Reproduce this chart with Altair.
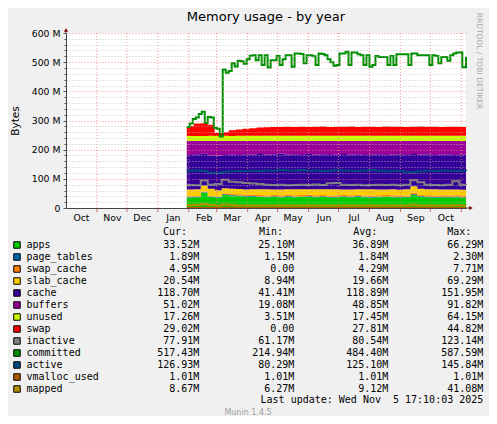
import altair as alt
import pandas as pd

# ---------------- data ----------------
week_dates = [(pd.Timestamp("2025-01-30") + pd.Timedelta(days=7 * i)).isoformat() for i in range(40)] + ["2025-11-05T17:10:00"]
comm_dates = [(pd.Timestamp("2025-01-30") + pd.Timedelta(days=3 * i)).isoformat() for i in range(93)] + ["2025-11-05T17:10:00"]

apps = [36, 37, 52, 38, 36, 45, 43, 41, 39, 39,
        38, 37, 38, 37, 39, 37, 38, 39, 37, 38,
        36, 37, 38, 37, 39, 37, 36, 37, 38, 37,
        36, 37, 45, 39, 37, 36, 37, 36, 37, 35,
        33.52]
page_tables = [1.6, 1.7, 1.8, 1.7, 1.6, 1.9, 1.9, 1.8, 1.8, 1.9,
               1.8, 1.8, 1.9, 1.8, 1.9, 1.8, 1.8, 1.9, 1.8, 1.9,
               1.8, 1.8, 1.9, 1.8, 1.9, 1.8, 1.8, 1.9, 1.8, 1.9,
               1.8, 1.8, 2.1, 1.9, 1.8, 1.9, 1.8, 1.9, 1.9, 1.9,
               1.89]
swap_cache = [2.0, 2.5, 3.0, 2.5, 1.0, 3.5, 4.0, 4.2, 4.5, 4.3,
              4.5, 4.4, 4.6, 4.5, 4.8, 4.5, 4.4, 4.7, 4.5, 4.6,
              4.4, 4.5, 4.7, 4.5, 4.6, 4.4, 4.5, 4.6, 4.5, 4.7,
              4.5, 4.4, 5.5, 4.8, 4.6, 4.5, 4.7, 4.6, 4.8, 4.9,
              4.95]
slab_cache = [24, 23, 20, 24, 22, 17, 17, 18, 18, 19,
              20, 21, 19, 20, 19, 21, 20, 19, 21, 20,
              22, 21, 19, 20, 19, 21, 22, 20, 19, 21,
              20, 21, 22, 20, 21, 22, 20, 21, 20, 21,
              20.54]
cache = [118.4, 119.8, 109.2, 114.8, 119.4, 114.6, 117.1, 117.0, 120.7, 118.8,
         120.7, 118.8, 120.5, 122.7, 118.3, 119.7, 117.8, 120.4, 118.7, 119.5,
         117.8, 118.7, 121.4, 119.7, 119.5, 117.8, 118.7, 120.5, 118.7, 118.4,
         121.7, 117.8, 110.4, 117.3, 119.6, 117.6, 119.5, 120.5, 118.3, 120.2,
         118.70]
buffers = [48, 46, 44, 49, 50, 48, 47, 48, 46, 47,
           45, 47, 46, 44, 47, 46, 48, 45, 47, 46,
           48, 47, 45, 47, 46, 48, 47, 46, 48, 47,
           46, 48, 45, 47, 46, 48, 47, 46, 48, 47,
           51.02]
unused = [17.2, 17.0, 16.8, 17.3, 17.1, 17.4, 17.2, 17.5, 17.3, 17.4,
          17.6, 17.5, 17.4, 17.6, 17.5, 17.4, 17.6, 17.5, 17.4, 17.5,
          17.6, 17.5, 17.4, 17.5, 17.6, 17.4, 17.5, 17.6, 17.5, 17.4,
          17.5, 17.6, 17.4, 17.5, 17.6, 17.5, 17.4, 17.5, 17.6, 17.4,
          17.26]
swap = [34, 43, 44, 38, 10, 12, 19, 22, 24, 26,
        28, 29, 30, 30, 31, 30, 31, 30, 31, 32,
        30, 31, 31, 32, 30, 31, 31, 30, 32, 31,
        31, 30, 31, 32, 31, 31, 30, 31, 31, 30,
        29.02]
inactive = [79, 78, 94, 80, 82, 97, 90, 88, 86, 84,
            82, 80, 79, 80, 78, 79, 80, 79, 81, 79,
            85, 86, 80, 79, 80, 78, 79, 80, 79, 80,
            78, 80, 95, 88, 80, 79, 78, 80, 92, 80,
            77.91]
active = [128, 129, 127, 121, 120, 124, 126, 127, 127, 128,
          127, 129, 128, 130, 129, 128, 130, 128, 129, 127,
          128, 130, 129, 128, 127, 129, 130, 128, 126, 128,
          127, 124, 123, 126, 128, 127, 129, 128, 127, 128,
          126.93]
vmalloc_used = [1.01, 1.01, 1.01, 1.01, 1.01, 1.01, 1.01, 1.01, 1.01, 1.01,
                1.01, 1.01, 1.01, 1.01, 1.01, 1.01, 1.01, 1.01, 1.01, 1.01,
                1.01, 1.01, 1.01, 1.01, 1.01, 1.01, 1.01, 1.01, 1.01, 1.01,
                1.01, 1.01, 1.01, 1.01, 1.01, 1.01, 1.01, 1.01, 1.01, 1.01,
                1.01]
mapped = [10, 11, 14, 10, 9, 12, 10, 9, 9, 9,
          9, 9, 9, 9, 9, 9, 9, 9, 9, 9,
          9, 9, 9, 9, 9, 9, 9, 9, 9, 9,
          9, 9, 11, 9, 9, 9, 9, 9, 10, 9,
          8.67]
committed = [278, 290, 305, 310, 322, 330, 292, 312, 310, 275,
             272, 245, 475, 464, 470, 496, 485, 505, 503, 495,
             510, 522, 524, 507, 524, 490, 524, 482, 507, 507,
             521, 490, 510, 524, 524, 484, 530, 530, 528, 496,
             524, 524, 520, 490, 530, 528, 524, 510, 500, 488,
             490, 530, 530, 536, 490, 533, 533, 527, 524, 490,
             524, 484, 490, 521, 518, 518, 518, 490, 521, 490,
             527, 527, 527, 527, 490, 530, 530, 524, 524, 524,
             524, 490, 524, 521, 496, 518, 518, 505, 524, 530,
             533, 533, 483, 517.43]

area_names = ["apps", "page_tables", "swap_cache", "slab_cache", "cache", "buffers", "unused", "swap"]
area_colors = ["#00CC00", "#0066B3", "#FF8000", "#FFCC00", "#330099", "#990099", "#CCFF00", "#FF0000"]
area_values = [apps, page_tables, swap_cache, slab_cache, cache, buffers, unused, swap]

line_names = ["inactive", "committed", "active", "vmalloc_used", "mapped"]
line_colors = ["#808080", "#008F00", "#00487D", "#B35A00", "#B38F00"]

legend_names = area_names + line_names
legend_colors = area_colors + line_colors
cur_vals = ["33.52M", "1.89M", "4.95M", "20.54M", "118.70M", "51.02M", "17.26M", "29.02M",
            "77.91M", "517.43M", "126.93M", "1.01M", "8.67M"]
min_vals = ["25.10M", "1.15M", "0.00", "8.94M", "41.41M", "19.08M", "3.51M", "0.00",
            "61.17M", "214.94M", "80.29M", "1.01M", "6.27M"]
avg_vals = ["36.89M", "1.84M", "4.29M", "19.66M", "118.89M", "48.85M", "17.45M", "27.81M",
            "80.54M", "484.40M", "125.10M", "1.01M", "9.12M"]
max_vals = ["66.29M", "2.30M", "7.71M", "69.29M", "151.95M", "91.82M", "64.15M", "44.82M",
            "123.14M", "587.59M", "145.84M", "1.01M", "41.08M"]

month_starts = ["2024-11-01T00:00:00", "2024-12-01T00:00:00", "2025-01-01T00:00:00",
                "2025-02-01T00:00:00", "2025-03-01T00:00:00", "2025-04-01T00:00:00",
                "2025-05-01T00:00:00", "2025-06-01T00:00:00", "2025-07-01T00:00:00",
                "2025-08-01T00:00:00", "2025-09-01T00:00:00", "2025-10-01T00:00:00",
                "2025-11-01T00:00:00"]
label_months = [(2024, 10), (2024, 11), (2024, 12), (2025, 1), (2025, 2), (2025, 3), (2025, 4),
                (2025, 5), (2025, 6), (2025, 7), (2025, 8), (2025, 9), (2025, 10)]

# ---------------- tables ----------------
area_rows = []
for k, (nm, vals) in enumerate(zip(area_names, area_values)):
    for d, v in zip(week_dates, vals):
        area_rows.append({"date": d, "series": nm, "value": v, "ord": k})
area_df = pd.DataFrame(area_rows)

line_rows = []
for nm, vals in [("inactive", inactive), ("active", active), ("vmalloc_used", vmalloc_used), ("mapped", mapped)]:
    for d, v in zip(week_dates, vals):
        line_rows.append({"date": d, "series": nm, "value": v})
for d, v in zip(comm_dates, committed):
    line_rows.append({"date": d, "series": "committed", "value": v})
line_df = pd.DataFrame(line_rows)

legend_df = pd.DataFrame({"name": legend_names, "col": legend_colors, "cur": cur_vals,
                          "mn": min_vals, "avg": avg_vals, "mx": max_vals,
                          "idx": list(range(len(legend_names)))})
month_df = pd.DataFrame({"m": month_starts})

# ---------------- scales / axes ----------------
FONT = "DejaVu Sans"
MONO = "DejaVu Sans Mono"
xscale = alt.Scale(domain=[alt.DateTime(year=2024, month=10, date=1),
                           alt.DateTime(year=2025, month=11, date=5, hours=17, minutes=10)])
yscale = alt.Scale(domain=[0, 600], nice=False)

major = "datum.value % 100 === 0"


def make_yaxis():
    return alt.Axis(
        values=list(range(0, 601, 20)),
        labelExpr="datum.value % 100 === 0 ? (datum.value === 0 ? '0' : datum.value + ' M') : ''",
        grid=True,
        gridColor={"condition": {"test": major, "value": "#F08080"}, "value": "#BBBBBB"},
        gridDash=[1, 2], gridOpacity=0.8,
        tickColor="#555555",
        tickSize={"condition": {"test": major, "value": 3}, "value": 2},
        domainColor="#444444",
        labelFont=FONT, labelFontSize=9.3, labelColor="#000000", labelPadding=3,
        title="Bytes", titleFont=FONT, titleFontSize=10.5, titleFontWeight="normal",
        titleColor="#000000", titleAngle=-90, titleX=-51, titleY=87.5,
        titleAlign="center", titleBaseline="middle",
        zindex=1,
    )


def make_xaxis():
    return alt.Axis(
        values=[alt.DateTime(year=y, month=m, date=16) for y, m in label_months],
        format="%b", labelFont=FONT, labelFontSize=9.3, labelColor="#000000",
        labelPadding=5, tickSize=0, grid=False, domainColor="#444444", title=None,
        labelFlush=False, labelOverlap=False, zindex=1,
    )


# ---------------- main plot ----------------
areas = alt.Chart(area_df).mark_area(interpolate="step-after").encode(
    x=alt.X("date:T", scale=xscale, axis=make_xaxis()),
    y=alt.Y("value:Q", stack="zero", scale=yscale, axis=make_yaxis()),
    color=alt.Color("series:N", scale=alt.Scale(domain=area_names, range=area_colors), legend=None),
    order=alt.Order("ord:Q"),
)

vgrid = alt.Chart(month_df).mark_rule(color="#F08080", strokeDash=[1, 2], strokeWidth=1, opacity=0.8).encode(
    x=alt.X("m:T", scale=xscale, axis=make_xaxis())
)
vticks = alt.Chart(month_df).mark_rule(color="#E06060", strokeWidth=1).encode(
    x=alt.X("m:T", scale=xscale, axis=make_xaxis()), y=alt.value(175), y2=alt.value(179)
)

line_layers = []
for nm, colr in zip(line_names, line_colors):
    line_layers.append(
        alt.Chart(line_df).transform_filter(alt.datum.series == nm).mark_line(
            interpolate="step-after", color=colr, strokeWidth=2
        ).encode(
            x=alt.X("date:T", scale=xscale, axis=make_xaxis()),
            y=alt.Y("value:Q", scale=yscale, axis=make_yaxis()),
        )
    )

main = alt.layer(areas, vgrid, vticks, *line_layers)

# ---------------- decorations & legend ----------------
one = pd.DataFrame({"a": [0]})
y_arrow = alt.Chart(one).mark_point(shape="triangle-up", filled=True, size=18, color="#7F0000", opacity=1).encode(
    x=alt.value(0), y=alt.value(-3))
y_ext = alt.Chart(one).mark_rule(color="#444444").encode(x=alt.value(0), y=alt.value(-3), y2=alt.value(0))
x_arrow = alt.Chart(one).mark_point(shape="triangle-right", filled=True, size=18, color="#7F0000", opacity=1).encode(
    x=alt.value(405), y=alt.value(175))
x_ext = alt.Chart(one).mark_rule(color="#444444").encode(x=alt.value(400), x2=alt.value(405), y=alt.value(175))

title = alt.Chart(one).mark_text(text="Memory usage - by year", font=FONT, fontSize=13, color="#000000",
                                 align="center", baseline="alphabetic").encode(x=alt.value(200), y=alt.value(-12.5))
watermark = alt.Chart(one).mark_text(text="RRDTOOL / TOBI OETIKER", font=FONT, fontSize=7.5, color="#A8A8A8",
                                     angle=90, align="center", baseline="middle").encode(x=alt.value(413), y=alt.value(28))

leg_base = alt.Chart(legend_df).transform_calculate(py="212 + 12 * datum.idx")
py = alt.Y("py:Q", scale=None, axis=None)
swatch = leg_base.mark_square(size=42, stroke="#000000", strokeWidth=1, opacity=1).encode(
    x=alt.value(-49), y=py, fill=alt.Fill("col:N", scale=None))
txt = dict(font=MONO, fontSize=10, color="#000000", baseline="middle")
names_t = leg_base.mark_text(align="left", **txt).encode(x=alt.value(-39.5), y=py, text="name:N")
cur_t = leg_base.mark_text(align="right", **txt).encode(x=alt.value(133.3), y=py, text="cur:N")
min_t = leg_base.mark_text(align="right", **txt).encode(x=alt.value(228.3), y=py, text="mn:N")
avg_t = leg_base.mark_text(align="right", **txt).encode(x=alt.value(322.3), y=py, text="avg:N")
max_t = leg_base.mark_text(align="right", **txt).encode(x=alt.value(417.3), y=py, text="mx:N")

headers = []
for label, hx in [("Cur:", 97), ("Min:", 193), ("Avg:", 287.3), ("Max:", 381.3)]:
    headers.append(alt.Chart(one).mark_text(text=label, align="left", **txt).encode(
        x=alt.value(hx), y=alt.value(198.7)))
last_update = alt.Chart(one).mark_text(text="Last update: Wed Nov\u00a0 5 17:10:03 2025", align="right", **txt).encode(
    x=alt.value(417.3), y=alt.value(367))
munin = alt.Chart(one).mark_text(text="Munin 1.4.5", font=FONT, fontSize=8, color="#A0A0A0",
                                 align="center", baseline="middle").encode(x=alt.value(182), y=alt.value(379.7))

extras = alt.layer(y_ext, x_ext, y_arrow, x_arrow, title, watermark, swatch, names_t, cur_t, min_t, avg_t,
                   max_t, *headers, last_update, munin)

chart = alt.layer(main, extras).resolve_scale(y="independent").properties(
    width=400, height=175,
    autosize=alt.AutoSizeParams(type="none"),
    padding={"left": 58, "top": 25, "right": 23, "bottom": 208},
    background="#F0F0F0",
).configure_view(fill="#FFFFFF", stroke=None)

chart.save("out.html", embed_options={"renderer": "svg", "actions": False})
